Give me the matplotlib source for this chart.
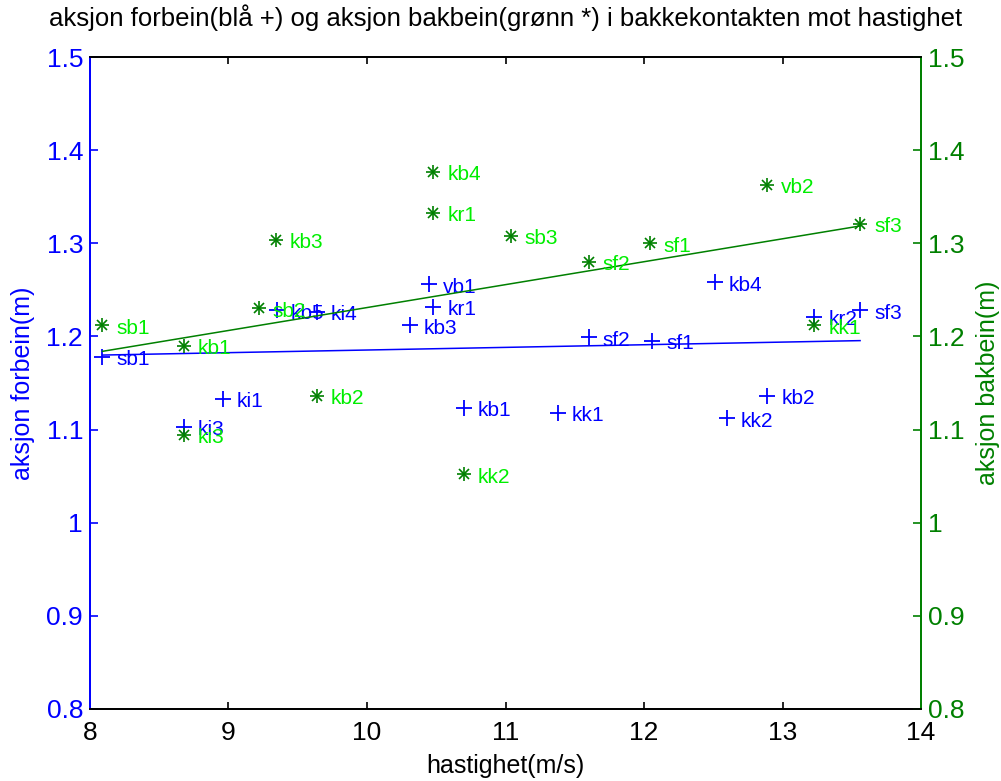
import matplotlib
matplotlib.use("Agg")
import matplotlib.pyplot as plt
from matplotlib.ticker import FuncFormatter

plt.rcParams["font.family"] = ["Liberation Sans", "DejaVu Sans"]

# forbein (blue +)
fb_x = [8.09, 8.68, 8.96, 9.35, 9.64, 10.31, 10.45, 10.48, 10.70, 11.38,
        11.60, 12.06, 12.51, 12.60, 12.89, 13.23, 13.56]
fb_y = [1.178, 1.103, 1.133, 1.228, 1.226, 1.212, 1.256, 1.232, 1.123, 1.118,
        1.199, 1.195, 1.258, 1.112, 1.136, 1.221, 1.228]
fb_lab = ["sb1", "ki3", "ki1", "kb5", "ki4", "kb3", "vb1", "kr1", "kb1", "kk1",
          "sf2", "sf1", "kb4", "kk2", "kb2", "kr2", "sf3"]

# bakbein (green *)
bb_x = [8.09, 8.68, 8.68, 9.22, 9.34, 9.64, 10.48, 10.48, 11.04, 10.70,
        11.60, 12.04, 12.89, 13.23, 13.56]
bb_y = [1.212, 1.094, 1.190, 1.230, 1.304, 1.136, 1.377, 1.333, 1.308, 1.052,
        1.280, 1.300, 1.363, 1.212, 1.321]
bb_lab = ["sb1", "ki3", "kb1", "sb2", "kb3", "kb2", "kb4", "kr1", "sb3", "kk2",
          "sf2", "sf1", "vb2", "kk1", "sf3"]

# fitted lines
fit_x = [8.09, 13.56]
fit_fb = [1.180, 1.1955]
fit_bb = [1.184, 1.3186]

BLUE = "#0000FF"
DGREEN = "#008000"
LGREEN = "#00EE00"

fig = plt.figure(figsize=(10.01, 7.81), dpi=100)
ax = fig.add_axes([0.0899, 0.0922, 0.8302, 0.8348])
ax2 = ax.twinx()

ax.plot(fb_x, fb_y, "+", color=BLUE, ms=12, mew=1.3, ls="none")
ax.plot(fit_x, fit_fb, color=BLUE, lw=1.1)
for x, y, t in zip(fb_x, fb_y, fb_lab):
    ax.annotate(t, (x, y), xytext=(10, -2), textcoords="offset points",
                va="center", ha="left", fontsize=15, color=BLUE)

ax2.plot(bb_x, bb_y, "+", color=DGREEN, ms=10, mew=1.2, ls="none")
ax2.plot(bb_x, bb_y, "x", color=DGREEN, ms=7.5, mew=1.2, ls="none")
ax2.plot(fit_x, fit_bb, color=DGREEN, lw=1.1)
for x, y, t in zip(bb_x, bb_y, bb_lab):
    ax2.annotate(t, (x, y), xytext=(10, -2), textcoords="offset points",
                 va="center", ha="left", fontsize=15, color=LGREEN)

for a in (ax, ax2):
    a.set_xlim(8, 14)
    a.set_ylim(0.8, 1.5)
    a.set_yticks([0.8, 0.9, 1.0, 1.1, 1.2, 1.3, 1.4, 1.5])
    a.yaxis.set_major_formatter(FuncFormatter(lambda v, p: f"{v:g}"))
    for s in a.spines.values():
        s.set_linewidth(1.3)
        s.set_color("black")

ax.spines["left"].set_color(BLUE)
ax2.spines["left"].set_color(BLUE)
ax2.spines["right"].set_color(DGREEN)
ax.spines["right"].set_color(DGREEN)

ax.set_xticks(range(8, 15))
ax.tick_params(axis="x", direction="in", top=True, length=5, width=1.2,
               labelsize=19, pad=9, colors="black")
ax.tick_params(axis="y", direction="in", length=6, width=1.2, labelsize=19,
               colors=BLUE, pad=5)
ax2.tick_params(axis="y", direction="in", length=6, width=1.2, labelsize=19,
                colors=DGREEN, pad=5)

ax.set_xlabel("hastighet(m/s)", fontsize=18, labelpad=6)
ax.set_ylabel("aksjon forbein(m)", fontsize=18, color=BLUE, labelpad=8)
ax2.set_ylabel("aksjon bakbein(m)", fontsize=18, color=DGREEN, labelpad=8)
ax.set_title("aksjon forbein(blå +) og aksjon bakbein(grønn *) i bakkekontakten mot hastighet",
             fontsize=18.5, pad=22)

fig.savefig("out.png", dpi=100)
